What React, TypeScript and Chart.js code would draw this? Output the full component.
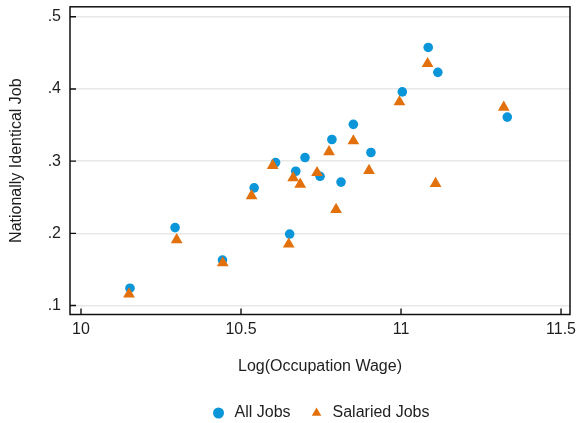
import React, { useEffect, useRef } from 'react';
import { Chart, registerables } from 'chart.js';

Chart.register(...registerables);

// Log occupation wage (x) and share of nationally identical jobs (y)
const allJobsWage = [10.153, 10.294, 10.442, 10.541, 10.608, 10.652, 10.671, 10.700, 10.747, 10.784, 10.8125, 10.851, 10.906, 11.004, 11.085, 11.115, 11.332];
const allJobsShare = [0.124, 0.208, 0.163, 0.263, 0.298, 0.199, 0.286, 0.305, 0.279, 0.330, 0.271, 0.351, 0.312, 0.396, 0.4575, 0.423, 0.361];

const salariedWage = [10.150, 10.299, 10.443, 10.533, 10.599, 10.649, 10.663, 10.685, 10.7375, 10.775, 10.797, 10.851, 10.900, 10.995, 11.083, 11.108, 11.321];
const salariedShare = [0.116, 0.191, 0.159, 0.252, 0.294, 0.185, 0.277, 0.268, 0.284, 0.313, 0.233, 0.328, 0.287, 0.382, 0.435, 0.269, 0.3745];

const xTickValues = [10, 10.5, 11, 11.5];
const xTickLabels = ['10', '10.5', '11', '11.5'];
const yTickValues = [0.1, 0.2, 0.3, 0.4, 0.5];
const yTickLabels = ['.1', '.2', '.3', '.4', '.5'];

const seriesLabels = ['All Jobs', 'Salaried Jobs'];
const xTitle = 'Log(Occupation Wage)';
const yTitle = 'Nationally Identical Job';

const BLUE = '#0a96d8';
const ORANGE = '#e2700c';
const TEXT = '#1e1e1e';
const FONT = 'Liberation Sans, Arial, Helvetica, sans-serif';
const FONT_SIZE = 16;

// Box around the plot region with short inward tick marks, and the legend centred under the plot
const framePlugin = {
  id: 'plotFrame',
  afterLayout(chart: any) {
    const lg = chart.legend;
    if (!lg) return;
    const w = lg.right - lg.left;
    const mid = (chart.chartArea.left + chart.chartArea.right) / 2;
    lg.left = mid - w / 2;
    lg.right = mid + w / 2;
  },
  beforeDatasetsDraw(chart: any) {
    const { ctx, chartArea: a, scales } = chart;
    const tick = 6;
    ctx.save();
    ctx.strokeStyle = '#111';
    ctx.lineWidth = 1.4;
    ctx.beginPath();
    yTickValues.forEach((v) => {
      const y = scales.y.getPixelForValue(v);
      ctx.moveTo(a.left, y);
      ctx.lineTo(a.left + tick, y);
    });
    xTickValues.forEach((v) => {
      const x = scales.x.getPixelForValue(v);
      ctx.moveTo(x, a.bottom);
      ctx.lineTo(x, a.bottom - tick);
    });
    ctx.stroke();
    ctx.lineWidth = 1.5;
    ctx.strokeRect(a.left, a.top, a.right - a.left, a.bottom - a.top);
    ctx.restore();
  },
};

export default function App() {
  const canvasRef = useRef<HTMLCanvasElement | null>(null);

  useEffect(() => {
    document.body.style.margin = '0';
    const canvas = canvasRef.current;
    if (!canvas) return;

    const chart = new Chart(canvas, {
      type: 'scatter',
      data: {
        datasets: [
          {
            label: seriesLabels[0],
            data: allJobsWage.map((x, i) => ({ x, y: allJobsShare[i] })),
            pointStyle: 'circle',
            pointRadius: 4.8,
            backgroundColor: BLUE,
            borderColor: BLUE,
            borderWidth: 0,
            order: 1,
          },
          {
            label: seriesLabels[1],
            data: salariedWage.map((x, i) => ({ x, y: salariedShare[i] })),
            pointStyle: 'triangle',
            pointRadius: 6.8,
            backgroundColor: ORANGE,
            borderColor: ORANGE,
            borderWidth: 0,
            order: 0,
          },
        ],
      },
      options: {
        animation: false,
        responsive: false,
        maintainAspectRatio: false,
        layout: { padding: { left: 0, top: 6, right: 9, bottom: -8 } },
        plugins: {
          tooltip: { enabled: false },
          legend: {
            position: 'bottom',
            labels: {
              usePointStyle: true,
              boxHeight: 7.8,
              boxWidth: 16,
              padding: 18,
              color: TEXT,
              font: { family: FONT, size: FONT_SIZE },
              sort: (a: any, b: any) => a.datasetIndex - b.datasetIndex,
            },
          },
        },
        scales: {
          x: {
            type: 'linear',
            min: 9.9656,
            max: 11.528,
            afterBuildTicks: (s: any) => {
              s.ticks = xTickValues.map((value) => ({ value }));
            },
            afterFit: (s: any) => {
              s.height = 72.5;
              s.paddingLeft = 0;
              s.paddingRight = 0;
            },
            ticks: {
              padding: 5,
              color: TEXT,
              font: { family: FONT, size: FONT_SIZE },
              callback: (_v: any, i: number) => xTickLabels[i],
            },
            grid: { display: false, drawTicks: false },
            border: { display: false },
            title: {
              display: true,
              text: xTitle,
              color: TEXT,
              font: { family: FONT, size: FONT_SIZE },
              padding: { top: 0, bottom: 10.5 },
            },
          },
          y: {
            type: 'linear',
            min: 0.0876,
            max: 0.5138,
            afterBuildTicks: (s: any) => {
              s.ticks = yTickValues.map((value) => ({ value }));
            },
            afterFit: (s: any) => {
              s.width = 70;
              s.paddingTop = 0;
              s.paddingBottom = 0;
            },
            ticks: {
              padding: 9,
              color: TEXT,
              font: { family: FONT, size: FONT_SIZE },
              callback: (_v: any, i: number) => yTickLabels[i],
            },
            grid: { color: '#e8e8e8', lineWidth: 1.5, drawTicks: false },
            border: { display: false },
            title: {
              display: true,
              text: yTitle,
              color: TEXT,
              font: { family: FONT, size: FONT_SIZE },
              padding: { top: 7.4, bottom: 0 },
            },
          },
        },
      },
      plugins: [framePlugin],
    });

    return () => chart.destroy();
  }, []);

  return (
    <div style={{ width: 579, height: 423, background: '#fff' }}>
      <canvas ref={canvasRef} width={579} height={423} style={{ display: 'block' }} />
    </div>
  );
}
